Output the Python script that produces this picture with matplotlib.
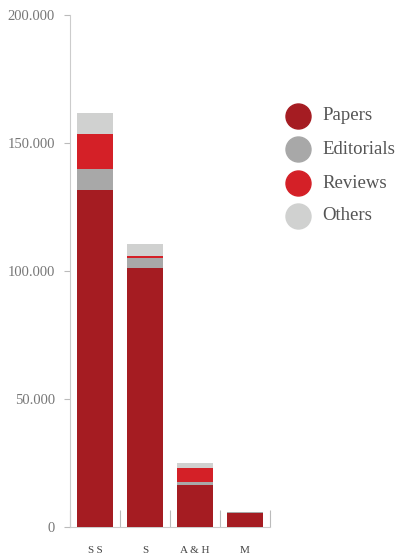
import matplotlib
matplotlib.use("Agg")
import matplotlib.pyplot as plt
from matplotlib.lines import Line2D
from matplotlib.ticker import FuncFormatter
import numpy as np

categories = ["SS", "S", "A&H", "M"]
series_names = ["Papers", "Editorials", "Reviews", "Others"]
papers = [131600, 101200, 16500, 5400]
editorials = [8200, 3900, 1100, 300]
reviews = [13900, 900, 5400, 200]
others = [8000, 4500, 1900, 100]
colors = ["#A51C22", "#A8A8A8", "#D42027", "#D0D1D0"]
yticks = [0, 50000, 100000, 150000, 200000]

plt.rcParams['font.family'] = ['Liberation Serif', 'DejaVu Serif']

fig = plt.figure(figsize=(4.0, 5.57), dpi=100)
ax = fig.add_axes([70/400, 1-527/557, 200/400, 512/557])

x = np.arange(len(categories))
bottom = np.zeros(len(categories))
for vals, col in zip([papers, editorials, reviews, others], colors):
    ax.bar(x, vals, width=0.72, bottom=bottom, color=col, zorder=3, linewidth=0)
    bottom += np.array(vals)

ax.set_xlim(-0.5, 3.5)
ax.set_ylim(0, 200000)
ax.set_yticks(yticks)
ax.yaxis.set_major_formatter(FuncFormatter(lambda v, p: f"{int(v):,}".replace(",", ".")))
for s in ["top", "right"]:
    ax.spines[s].set_visible(False)
ax.spines["left"].set_color("#cccccc")
ax.spines["bottom"].set_color("#cccccc")
ax.tick_params(axis="y", direction="out", length=4, color="#bbbbbb", labelcolor="#777777",
               labelsize=10.5, pad=7)

# x-axis: boundary ticks pointing up, labels at centers
ax.set_xticks([-0.5, 0.5, 1.5, 2.5, 3.5])
ax.set_xticklabels([])
ax.tick_params(axis="x", direction="in", length=12, color="#bbbbbb")
ax.set_xticks(x, minor=True)
ax.set_xticklabels(["S\u2009S", "S", "A & H", "M"], minor=True, fontsize=8, color="#444444")
ax.tick_params(axis="x", which="minor", length=0, pad=14)

# legend
ys = [116, 149, 183, 216]
for name, col, yy in zip(series_names, colors, ys):
    fy = 1 - yy/557
    fig.add_artist(Line2D([298/400], [fy], marker="o", markersize=18, color=col,
                          linestyle="none", transform=fig.transFigure))
    fig.text(322/400, fy, name, fontsize=13.5, color="#555555", va="center", ha="left")

fig.savefig("out.png", dpi=100)
